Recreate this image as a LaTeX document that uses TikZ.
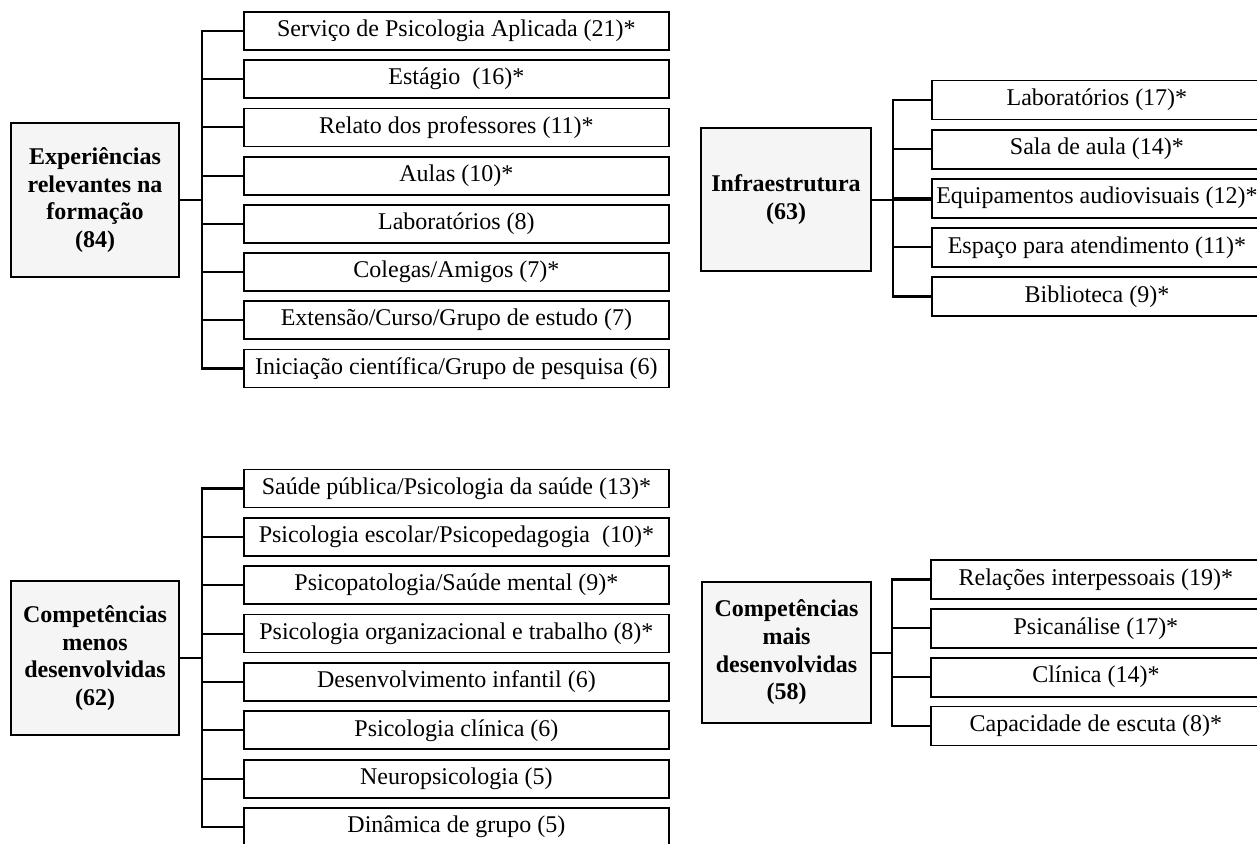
\documentclass[tikz,border=0pt]{standalone}
\usepackage{fontspec}
\setmainfont{Liberation Serif}
\begin{document}
\begin{tikzpicture}[x=1pt,y=-1pt,
  every node/.style={inner sep=0pt},
  mainbox/.style={draw, line width=1.8pt, fill=black!4, align=center,
    font=\fontsize{24}{27.7}\selectfont\bfseries},
  itembox/.style={draw, line width=1.8pt, anchor=west, minimum height=38pt,
    font=\fontsize{24}{28}\selectfont},
  link/.style={line width=2pt},
  trunk/.style={line width=2.4pt, line join=miter}]
\useasboundingbox (0,0) rectangle (1257,843);
\clip (0,0) rectangle (1257,843);

% ---------- Panel 1 ----------
\node[mainbox, minimum width=168pt, minimum height=154pt] (m1) at (95,200)
  {Experiências\\relevantes na\\formação\\(84)};
\coordinate (t1) at (201.7,200);
\foreach \i/\t in {1/{Serviço de Psicologia Aplicada (21)*},
                   2/{Estágio~ (16)*},
                   3/{Relato dos professores (11)*},
                   4/{Aulas (10)*},
                   5/{Laboratórios (8)},
                   6/{Colegas/Amigos (7)*},
                   7/{Extensão/Curso/Grupo de estudo (7)},
                   8/{Iniciação científica/Grupo de pesquisa (6)}}
  \node[itembox, minimum width=425pt] (a\i) at (243,{31+48.2*(\i-1)}) {\t};
\draw[link] (m1.east) -- (t1);
\draw[trunk] (a1.west) -| (t1) |- (a8.west);
\foreach \i in {2,...,7} \draw[link] (a\i.west) -- (a\i.west -| t1);

% ---------- Panel 2 ----------
\node[mainbox, minimum width=170pt, minimum height=143pt] (m2) at (786,199.5)
  {Infraestrutura\\(63)};
\coordinate (t2) at (893,199.5);
\foreach \i/\t in {1/{Laboratórios (17)*},
                   2/{Sala de aula (14)*},
                   3/{Equipamentos audiovisuais (12)*},
                   4/{Espaço para atendimento (11)*},
                   5/{Biblioteca (9)*}}
  \node[itembox, minimum width=330pt, minimum height=39pt] (b\i) at (931,{100+49.1*(\i-1)}) {\t};
\draw[link] (m2.east) -- (m2.east -| b3.west);
\draw[trunk] (b1.west) -| (t2) |- (b5.west);
\foreach \i in {2,3,4} \draw[link] (b\i.west) -- (b\i.west -| t2);

% ---------- Panel 3 ----------
\node[mainbox, minimum width=168pt, minimum height=154pt] (m3) at (95,658)
  {Competências\\menos\\desenvolvidas\\(62)};
\coordinate (t3) at (201.7,658);
\foreach \i/\t in {1/{Saúde pública/Psicologia da saúde (13)*},
                   2/{Psicologia escolar/Psicopedagogia~ (10)*},
                   3/{Psicopatologia/Saúde mental (9)*},
                   4/{Psicologia organizacional e trabalho (8)*},
                   5/{Desenvolvimento infantil (6)},
                   6/{Psicologia clínica (6)},
                   7/{Neuropsicologia (5)},
                   8/{Dinâmica de grupo (5)}}
  \node[itembox, minimum width=425pt] (c\i) at (243,{488.5+48.35*(\i-1)}) {\t};
\draw[link] (m3.east) -- (t3);
\draw[trunk] (c1.west) -| (t3) |- (c8.west);
\foreach \i in {2,...,7} \draw[link] (c\i.west) -- (c\i.west -| t3);

% ---------- Panel 4 ----------
\node[mainbox, minimum width=169pt, minimum height=141pt] (m4) at (786.5,652.5)
  {Competências\\mais\\desenvolvidas\\(58)};
\coordinate (t4) at (892,652.5);
\foreach \i/\t in {1/{Relações interpessoais (19)*},
                   2/{Psicanálise (17)*},
                   3/{Clínica (14)*},
                   4/{Capacidade de escuta (8)*}}
  \node[itembox, minimum width=330pt, minimum height=39pt] (d\i) at (930,{579.5+48.8*(\i-1)}) {\t};
\draw[link] (m4.east) -- (t4);
\draw[trunk] (d1.west) -| (t4) |- (d4.west);
\foreach \i in {2,3} \draw[link] (d\i.west) -- (d\i.west -| t4);
\end{tikzpicture}
\end{document}
